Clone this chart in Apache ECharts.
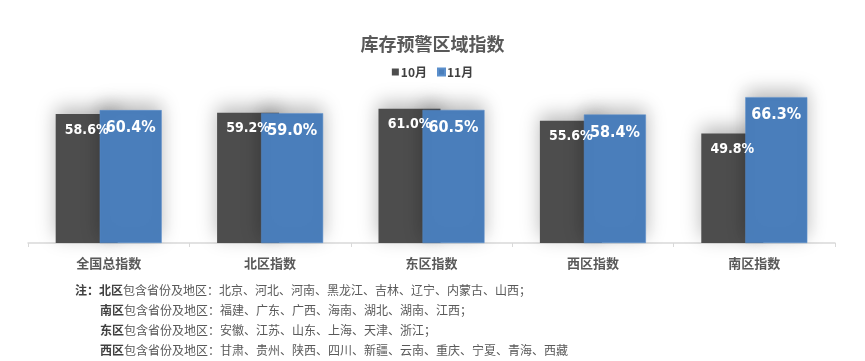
<!DOCTYPE html>
<html>
<head>
<meta charset="utf-8">
<script src="https://cdn.jsdelivr.net/npm/echarts@6/dist/echarts.min.js"></script>
<style>
html,body{margin:0;padding:0;background:#fff;}
#main{width:865px;height:361px;}
</style>
</head>
<body>
<div id="main"></div>
<script>
const categories = ['全国总指数', '北区指数', '东区指数', '西区指数', '南区指数'];
const oct = [58.6, 59.2, 61.0, 55.6, 49.8];
const nov = [60.4, 59.0, 60.5, 58.4, 66.3];
const seriesNames = ['10月', '11月'];
const noteLines = [
  ['注：', '北区', '包含省份及地区：北京、河北、河南、黑龙江、吉林、辽宁、内蒙古、山西；'],
  ['', '南区', '包含省份及地区：福建、广东、广西、海南、湖北、湖南、江西；'],
  ['', '东区', '包含省份及地区：安徽、江苏、山东、上海、天津、浙江；'],
  ['', '西区', '包含省份及地区：甘肃、贵州、陕西、四川、新疆、云南、重庆、宁夏、青海、西藏']
];

const cjk = '"Noto Sans CJK SC", "Microsoft YaHei", sans-serif';
const narrow = '"DejaVu Sans Condensed", "Liberation Sans Narrow", "Arial Narrow", sans-serif';

const chart = echarts.init(document.getElementById('main'));

const noteGraphics = noteLines.map((l, i) => ({
  type: 'text',
  left: l[0] ? 75 : 100,
  top: 284 + i * 20,
  style: {
    text: (l[0] ? '{b|' + l[0] + '}' : '') + '{b|' + l[1] + '}{n|' + l[2] + '}',
    rich: {
      b: { fontFamily: cjk, fontSize: 12, fontWeight: 'bold', fill: '#404040' },
      n: { fontFamily: cjk, fontSize: 12, fill: '#595959' }
    }
  }
}));

const barShadow = { shadowBlur: 18, shadowColor: 'rgba(0,0,0,0.28)', shadowOffsetY: -6 };
const labelBase = {
  show: true,
  position: 'insideTop',
  formatter: p => p.value.toFixed(1) + '%',
  fontFamily: narrow,
  fontStyle: 'condensed',
  fontWeight: 'bold',
  color: '#ffffff'
};
const catAxis = (show) => ({
  type: 'category',
  data: categories,
  show: show,
  axisLine: { lineStyle: { color: '#d9d9d9', width: 1.5 } },
  axisTick: { show: true, length: 4, lineStyle: { color: '#d9d9d9' } },
  axisLabel: { fontFamily: cjk, fontSize: 13, fontWeight: 'bold', color: '#595959', margin: 14 }
});
const valAxis = { type: 'value', min: 0, max: 70, show: false, splitLine: { show: false } };

chart.setOption({
  backgroundColor: '#ffffff',
  animation: false,
  title: {
    text: '库存预警区域指数',
    left: 'center',
    top: 30,
    textStyle: { fontFamily: cjk, fontSize: 18, fontWeight: 'bold', color: '#595959' }
  },
  legend: {
    data: seriesNames,
    top: 61,
    left: 'center',
    itemWidth: 7,
    itemHeight: 7,
    itemGap: 10,
    icon: 'rect',
    textStyle: { fontFamily: cjk, fontSize: 12, fontWeight: 'bold', color: '#404040', padding: [0, 0, 0, -3] }
  },
  grid: { left: 28, right: 30, top: 89, bottom: 118 },
  xAxis: [catAxis(true), catAxis(false)],
  yAxis: [valAxis, Object.assign({}, valAxis)],
  series: [
    {
      name: seriesNames[0],
      type: 'bar',
      data: oct,
      barWidth: 62,
      barGap: '-29%',
      itemStyle: Object.assign({ color: '#4d4d4d' }, barShadow),
      z: 2
    },
    {
      name: seriesNames[1],
      type: 'bar',
      data: nov,
      barWidth: 62,
      itemStyle: Object.assign({ color: '#4a7ebb', borderColor: '#5b8fcc', borderWidth: 0.5 }, barShadow),
      z: 3
    },
    {
      name: 'label-10',
      type: 'bar',
      xAxisIndex: 1,
      yAxisIndex: 1,
      data: oct,
      barWidth: 62,
      barGap: '-29%',
      silent: true,
      itemStyle: { color: 'rgba(0,0,0,0)' },
      label: Object.assign({ fontSize: 14, distance: 9 }, labelBase),
      z: 5
    },
    {
      name: 'label-11',
      type: 'bar',
      xAxisIndex: 1,
      yAxisIndex: 1,
      data: nov,
      barWidth: 62,
      silent: true,
      itemStyle: { color: 'rgba(0,0,0,0)' },
      label: Object.assign({ fontSize: 16, distance: 10 }, labelBase),
      z: 5
    }
  ],
  graphic: noteGraphics
});
</script>
</body>
</html>
